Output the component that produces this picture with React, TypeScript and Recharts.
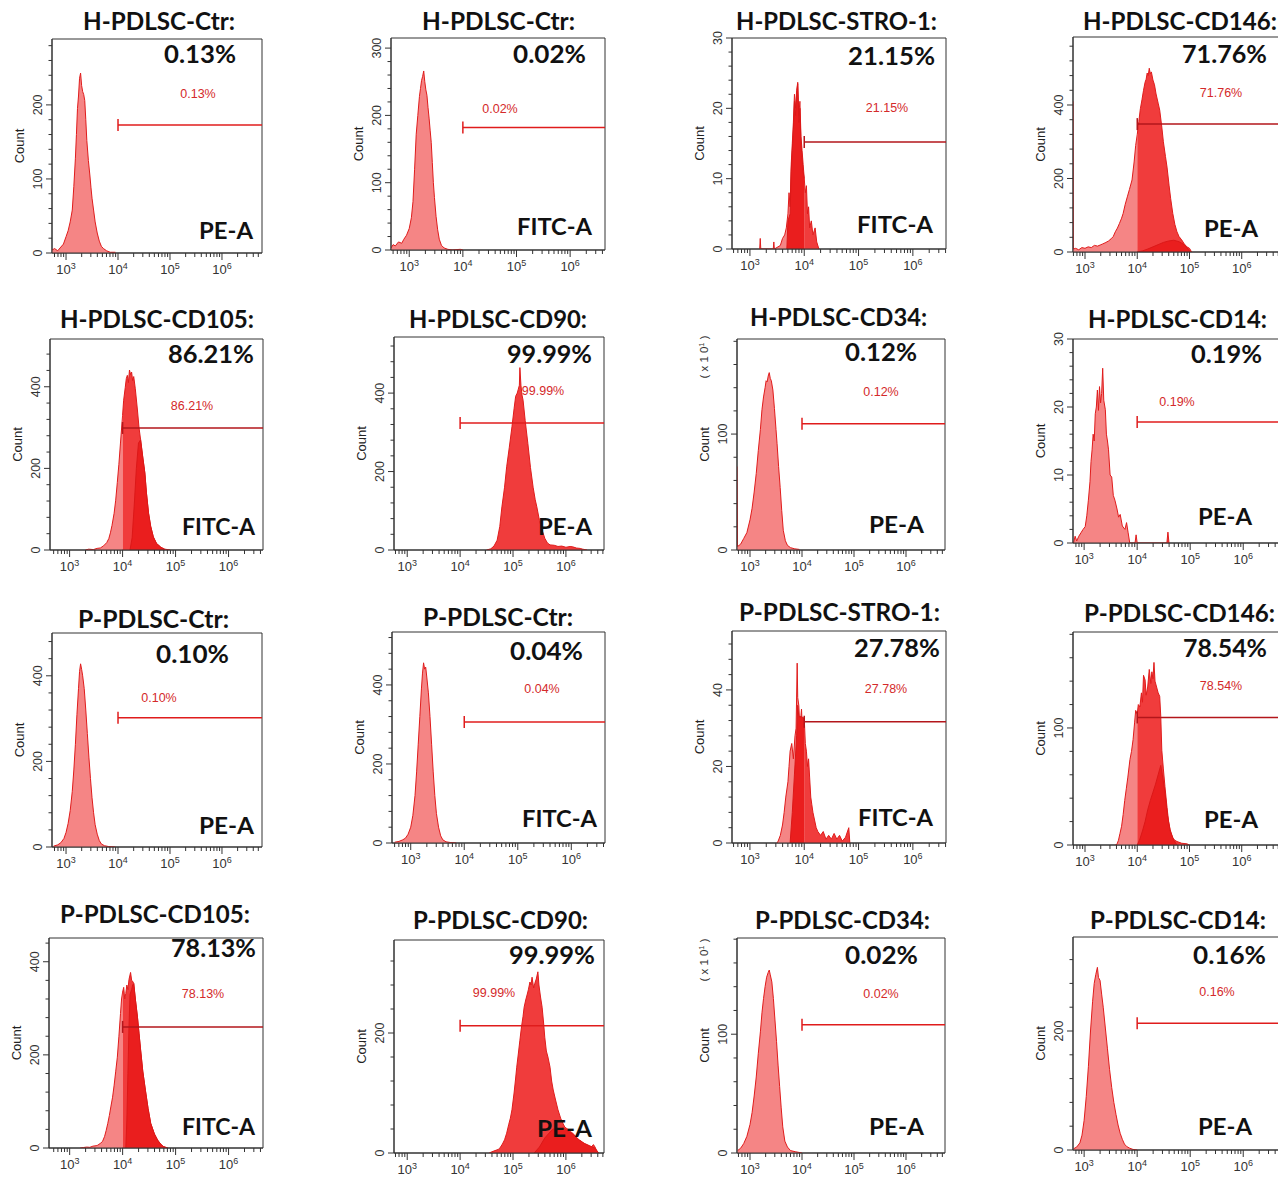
import React from "react";
import { ComposedChart, Area, XAxis, YAxis, ReferenceLine, ReferenceDot, ReferenceArea } from "recharts";

// [log10(fluorescence), count]
type Pair = [number, number];

const hCtrPe: Pair[] = [[2.73,4],[2.78,6],[2.84,3],[2.9,8],[2.95,12],[3.0,22],[3.04,30],[3.08,42],[3.12,58],[3.15,90],[3.18,128],[3.2,160],[3.22,195],[3.24,212],[3.26,236],[3.28,243],[3.3,226],[3.32,218],[3.34,214],[3.36,206],[3.38,180],[3.4,152],[3.43,125],[3.46,104],[3.48,88],[3.5,74],[3.53,58],[3.56,42],[3.6,27],[3.64,16],[3.68,9],[3.72,6],[3.78,3],[3.85,1],[3.95,1],[4.05,0]];
const hCtrFitc: Pair[] = [[2.66,3],[2.7,8],[2.74,6],[2.8,12],[2.86,10],[2.9,16],[2.95,22],[3.0,32],[3.04,48],[3.07,72],[3.1,120],[3.13,172],[3.16,200],[3.19,228],[3.21,240],[3.23,252],[3.25,258],[3.27,266],[3.29,250],[3.31,238],[3.33,230],[3.35,212],[3.37,196],[3.39,178],[3.41,160],[3.43,130],[3.45,100],[3.47,78],[3.5,50],[3.53,30],[3.56,16],[3.6,7],[3.65,3],[3.72,1],[3.8,0],[3.95,1],[4.0,0]];
const hStro: Pair[] = [[3.18,0],[3.19,1.5],[3.2,0],[3.43,0],[3.44,1],[3.45,0],[3.56,0.5],[3.6,1.5],[3.64,2],[3.67,3],[3.7,5],[3.72,8],[3.74,6],[3.76,12],[3.78,15],[3.8,18],[3.82,22],[3.84,20],[3.86,22.5],[3.88,23.7],[3.9,19],[3.92,21],[3.94,16],[3.96,14],[3.98,12],[4.0,10],[4.02,8],[4.04,9],[4.06,5],[4.08,6],[4.1,3],[4.13,4],[4.16,2],[4.2,3],[4.23,1],[4.27,0]];
const hStroInner: Pair[] = [[3.68,0],[3.7,4],[3.74,5],[3.76,11],[3.78,14],[3.8,17],[3.82,21],[3.84,19],[3.86,22],[3.88,23.5],[3.9,18],[3.92,20],[3.94,15],[3.96,13],[3.98,11],[4.0,10]];
const hCd146: Pair[] = [[2.77,410],[2.775,8],[2.82,10],[2.88,6],[2.94,12],[3.0,10],[3.06,14],[3.12,12],[3.18,18],[3.24,16],[3.29,19],[3.34,22],[3.4,26],[3.45,30],[3.5,36],[3.54,42],[3.58,55],[3.62,65],[3.66,78],[3.7,92],[3.73,105],[3.77,130],[3.81,150],[3.85,170],[3.9,196],[3.94,245],[3.97,290],[4.0,320],[4.03,355],[4.06,390],[4.09,414],[4.12,440],[4.15,462],[4.17,470],[4.19,487],[4.21,480],[4.23,500],[4.25,485],[4.27,490],[4.3,468],[4.33,455],[4.36,430],[4.4,405],[4.43,386],[4.47,340],[4.5,300],[4.54,260],[4.57,231],[4.61,180],[4.64,145],[4.68,105],[4.72,75],[4.76,55],[4.8,42],[4.85,33],[4.9,22],[4.95,14],[5.0,10],[5.04,0]];
const hCd146Inner: Pair[] = [[4.0,0],[4.1,3],[4.2,8],[4.3,14],[4.4,20],[4.5,26],[4.6,30],[4.7,32],[4.8,28],[4.9,20],[4.97,8],[5.02,0]];
const hCd105: Pair[] = [[3.3,0],[3.36,2],[3.45,1],[3.52,4],[3.58,5],[3.64,10],[3.7,18],[3.74,28],[3.77,42],[3.8,60],[3.84,90],[3.87,122],[3.9,165],[3.93,210],[3.96,262],[4.0,330],[4.02,367],[4.05,398],[4.07,420],[4.09,428],[4.11,410],[4.13,441],[4.15,430],[4.17,436],[4.19,415],[4.21,425],[4.24,395],[4.28,343],[4.31,300],[4.34,270],[4.38,228],[4.42,189],[4.45,140],[4.49,90],[4.53,58],[4.58,32],[4.64,16],[4.72,7],[4.8,2],[4.9,0]];
const hCd105Inner: Pair[] = [[4.14,0],[4.18,30],[4.22,110],[4.26,200],[4.3,262],[4.34,270],[4.38,228],[4.42,189],[4.45,140],[4.49,90],[4.53,58],[4.58,32],[4.64,16],[4.72,7],[4.8,0]];
const hCd90: Pair[] = [[4.5,0],[4.58,3],[4.64,10],[4.7,25],[4.75,60],[4.79,110],[4.84,160],[4.88,212],[4.93,262],[4.98,314],[5.02,360],[5.05,392],[5.08,400],[5.1,410],[5.12,420],[5.13,465],[5.15,420],[5.17,395],[5.19,382],[5.23,330],[5.28,272],[5.33,210],[5.38,160],[5.42,128],[5.45,110],[5.5,75],[5.55,51],[5.6,30],[5.65,18],[5.7,13],[5.78,12],[5.85,9],[5.92,10],[6.0,7],[6.08,9],[6.13,8],[6.2,5],[6.27,4],[6.32,2],[6.4,0]];
const hCd34: Pair[] = [[2.75,72],[2.76,3],[2.82,5],[2.88,10],[2.94,15],[3.0,26],[3.04,36],[3.08,50],[3.12,66],[3.16,86],[3.2,104],[3.23,121],[3.26,132],[3.29,140],[3.31,146],[3.33,145],[3.35,150],[3.37,153],[3.39,148],[3.41,146],[3.44,138],[3.47,122],[3.5,104],[3.52,92],[3.55,72],[3.58,54],[3.61,34],[3.64,17],[3.68,8],[3.72,4],[3.78,2],[3.86,1],[3.95,0.5],[4.05,0]];
const hCd14: Pair[] = [[2.8,0],[2.83,1],[2.86,0.3],[2.9,1],[2.94,1.5],[2.98,2],[3.02,2.4],[3.05,4],[3.08,6.3],[3.11,9],[3.13,12],[3.15,13.7],[3.17,16],[3.19,15],[3.21,19],[3.23,20],[3.25,22.5],[3.27,19.5],[3.29,23],[3.31,20.6],[3.33,22],[3.35,25.7],[3.37,21],[3.4,19.6],[3.42,16],[3.44,15],[3.46,13.7],[3.49,10],[3.52,9.7],[3.55,7],[3.58,6.3],[3.62,5],[3.65,3.8],[3.68,4.2],[3.72,2.5],[3.77,2],[3.8,3],[3.83,1.5],[3.86,0],[3.96,0],[3.98,1.2],[4.0,0],[4.56,0],[4.58,1.6],[4.6,0]];
const pCtrPe: Pair[] = [[2.76,2],[2.84,5],[2.9,10],[2.96,20],[3.0,34],[3.04,55],[3.08,85],[3.12,130],[3.15,180],[3.18,240],[3.21,310],[3.24,370],[3.26,410],[3.28,428],[3.3,415],[3.32,400],[3.35,370],[3.38,320],[3.41,265],[3.44,210],[3.47,160],[3.5,115],[3.53,80],[3.56,52],[3.6,30],[3.64,15],[3.68,7],[3.74,3],[3.82,1],[3.95,0]];
const pCtrFitc: Pair[] = [[2.7,2],[2.78,4],[2.85,8],[2.9,12],[2.95,22],[3.0,40],[3.04,70],[3.08,120],[3.11,180],[3.14,250],[3.17,320],[3.2,390],[3.22,430],[3.24,456],[3.26,440],[3.28,445],[3.3,420],[3.33,380],[3.36,320],[3.39,250],[3.42,180],[3.45,120],[3.48,75],[3.52,40],[3.56,18],[3.6,8],[3.66,3],[3.75,1],[3.85,0]];
const pStro: Pair[] = [[3.5,0],[3.52,0.5],[3.56,2],[3.6,4.7],[3.63,8],[3.66,12],[3.7,16],[3.72,20],[3.74,24],[3.77,26],[3.8,22],[3.83,28],[3.85,30],[3.87,47],[3.88,38],[3.9,36],[3.92,30],[3.95,35],[3.97,28],[4.0,32.6],[4.02,26],[4.04,24],[4.06,20],[4.08,22],[4.1,17],[4.12,12],[4.14,10],[4.16,8],[4.19,6],[4.22,4],[4.25,3],[4.3,2],[4.35,3],[4.4,1],[4.45,2],[4.5,1],[4.55,2.5],[4.6,1],[4.65,2],[4.7,0.5],[4.76,1.5],[4.82,4],[4.84,0]];
const pStroInner: Pair[] = [[3.74,0],[3.78,8],[3.82,18],[3.86,28],[3.88,36],[3.9,33],[3.95,33],[4.0,32.6]];
const pCd146: Pair[] = [[3.58,0],[3.61,0.5],[3.64,4],[3.67,10],[3.7,16],[3.73,26],[3.76,38],[3.79,48],[3.82,58],[3.86,73],[3.89,80],[3.92,90],[3.95,105],[3.97,115],[4.0,112],[4.02,120],[4.05,118],[4.08,130],[4.1,122],[4.12,145],[4.15,141],[4.17,128],[4.2,135],[4.23,150],[4.26,138],[4.28,148],[4.3,142],[4.32,156],[4.34,140],[4.37,135],[4.4,130],[4.43,127],[4.45,110],[4.47,81],[4.5,65],[4.53,50],[4.57,32],[4.6,20],[4.63,13],[4.68,6],[4.72,4],[4.76,3],[4.85,1.5],[4.95,1],[5.0,0]];
const pCd146Inner: Pair[] = [[4.0,0],[4.05,5],[4.1,12],[4.15,20],[4.2,30],[4.25,38],[4.3,45],[4.35,52],[4.4,60],[4.45,68],[4.48,60],[4.53,45],[4.58,25],[4.63,12],[4.7,4],[4.76,0]];
const pCd105: Pair[] = [[3.2,0],[3.26,1],[3.32,2],[3.38,1.5],[3.44,4],[3.5,5],[3.53,6],[3.58,10],[3.62,14],[3.66,25],[3.69,38],[3.72,53],[3.75,70],[3.78,90],[3.81,109],[3.84,135],[3.87,165],[3.9,195],[3.93,240],[3.96,289],[3.98,320],[4.0,335],[4.02,345],[4.04,320],[4.06,332],[4.08,350],[4.1,340],[4.12,362],[4.15,377],[4.17,360],[4.19,358],[4.21,353],[4.24,320],[4.28,281],[4.31,245],[4.34,210],[4.38,165],[4.43,124],[4.48,85],[4.53,53],[4.6,30],[4.66,17],[4.72,8],[4.77,3],[4.85,0]];
const pCd105Inner: Pair[] = [[4.06,0],[4.08,60],[4.1,160],[4.12,260],[4.14,330],[4.17,340],[4.19,350],[4.21,353],[4.24,320],[4.28,281],[4.31,245],[4.34,210],[4.38,165],[4.43,124],[4.48,85],[4.53,53],[4.6,30],[4.66,17],[4.72,8],[4.77,3],[4.85,0]];
const pCd90: Pair[] = [[4.55,0],[4.6,2],[4.66,4],[4.72,6],[4.75,8],[4.8,15],[4.84,22],[4.88,33],[4.92,48],[4.95,58],[4.98,72],[5.02,100],[5.05,125],[5.07,143],[5.1,165],[5.13,188],[5.16,210],[5.19,228],[5.21,243],[5.24,255],[5.27,265],[5.29,272],[5.32,285],[5.34,280],[5.36,293],[5.39,275],[5.42,285],[5.44,290],[5.47,302],[5.49,280],[5.52,260],[5.55,243],[5.58,215],[5.6,193],[5.63,170],[5.66,160],[5.7,143],[5.73,120],[5.76,105],[5.8,90],[5.85,72],[5.9,58],[5.94,50],[5.98,43],[6.03,40],[6.08,36],[6.13,33],[6.18,28],[6.23,22],[6.28,20],[6.32,17],[6.38,14],[6.43,12],[6.48,10],[6.52,14],[6.55,10],[6.6,0]];
const pCd90Inner: Pair[] = [[5.4,0],[5.5,10],[5.6,25],[5.7,35],[5.76,40],[5.85,38],[5.95,42],[6.05,36],[6.15,30],[6.25,22],[6.35,16],[6.45,12],[6.55,8],[6.62,0]];
const pCd34: Pair[] = [[2.76,2],[2.82,4],[2.88,8],[2.94,14],[3.0,24],[3.04,34],[3.08,48],[3.12,64],[3.16,84],[3.2,102],[3.23,118],[3.26,130],[3.29,140],[3.32,148],[3.35,152],[3.37,154],[3.39,150],[3.42,144],[3.45,130],[3.48,112],[3.51,94],[3.54,74],[3.57,56],[3.6,38],[3.63,22],[3.67,10],[3.72,5],[3.78,2],[3.88,1],[4.0,0]];
const pCd14: Pair[] = [[2.8,2],[2.86,5],[2.92,12],[2.96,25],[3.0,50],[3.04,90],[3.08,140],[3.12,200],[3.16,250],[3.19,280],[3.22,295],[3.25,307],[3.27,290],[3.3,285],[3.33,262],[3.36,240],[3.4,205],[3.44,170],[3.48,135],[3.52,105],[3.56,80],[3.6,60],[3.64,42],[3.68,28],[3.72,18],[3.76,10],[3.8,6],[3.86,3],[3.92,1],[4.0,0]];

const HISTS = [hCtrPe, hCtrFitc, hStro, hCd146, hCd105, hCd90, hCd34, hCd14, pCtrPe, pCtrFitc, pStro, pCd146, pCd105, pCd90, pCd34, pCd14];
const INNERS: (Pair[] | undefined)[] = [undefined, undefined, hStroInner, hCd146Inner, hCd105Inner, undefined, undefined, undefined, undefined, undefined, pStroInner, pCd146Inner, pCd105Inner, pCd90Inner, undefined, undefined];

const TITLES = ["H-PDLSC-Ctr:", "H-PDLSC-Ctr:", "H-PDLSC-STRO-1:", "H-PDLSC-CD146:", "H-PDLSC-CD105:", "H-PDLSC-CD90:", "H-PDLSC-CD34:", "H-PDLSC-CD14:", "P-PDLSC-Ctr:", "P-PDLSC-Ctr:", "P-PDLSC-STRO-1:", "P-PDLSC-CD146:", "P-PDLSC-CD105:", "P-PDLSC-CD90:", "P-PDLSC-CD34:", "P-PDLSC-CD14:"];
const PERCENTS = ["0.13%", "0.02%", "21.15%", "71.76%", "86.21%", "99.99%", "0.12%", "0.19%", "0.10%", "0.04%", "27.78%", "78.54%", "78.13%", "99.99%", "0.02%", "0.16%"];
const CHANNELS = ["PE-A", "FITC-A", "FITC-A", "PE-A", "FITC-A", "PE-A", "PE-A", "PE-A", "PE-A", "FITC-A", "FITC-A", "PE-A", "FITC-A", "PE-A", "PE-A", "PE-A"];
const GATE_COUNTS = [173, 182, 15.2, 348, 299, 324, 109, 17.8, 302, 306, 31.7, 109, 260, 212, 108, 213];
const GATE_LOG = 4;
const Y_MAX = [289, 315, 30, 585, 517, 543, 182, 30, 500, 534, 55.4, 182, 451, 355, 181, 358];
const Y_STEP = [100, 100, 10, 200, 200, 200, 100, 10, 200, 200, 20, 100, 200, 200, 100, 200];
const X_DECADES = [2, 3, 4, 5, 6, 7];

const RED = "#e01c1c";
const DARK_GATE = "#b3161b";
const BOLD = "Lato, 'Open Sans', sans-serif";
const SANS = "'Liberation Sans', Arial, sans-serif";

interface Layout {
  box: [number, number, number, number];
  xLog: [number, number];
  title: [number, number, number];
  pct: [number, number, number];
  chan: [number, number, number];
  small: [number, number];
  gate: string;
  x10?: [number, number];
}

const LAYOUT: Layout[] = [
  { box: [52, 39, 262, 253], xLog: [2.73, 6.77], title: [83, 30, 152], pct: [164, 63, 72], chan: [199, 239, 54], small: [198, 98], gate: RED },
  { box: [391, 38, 605, 250], xLog: [2.66, 6.65], title: [422, 30, 153], pct: [513, 63, 73], chan: [517, 235, 75], small: [500, 113], gate: RED },
  { box: [732, 38, 946, 249], xLog: [2.67, 6.61], title: [736, 30, 201], pct: [848, 65, 87], chan: [857, 233, 76], small: [887, 112], gate: DARK_GATE },
  { box: [1073, 37, 1283, 252], xLog: [2.77, 6.79], title: [1083, 30, 194], pct: [1182, 63, 85], chan: [1204, 237, 54], small: [1221, 97], gate: DARK_GATE },
  { box: [50, 339, 263, 550], xLog: [2.63, 6.65], title: [60, 328, 194], pct: [168, 363, 86], chan: [182, 535, 73], small: [192, 410], gate: DARK_GATE },
  { box: [394, 337, 604, 550], xLog: [2.75, 6.72], title: [409, 328, 178], pct: [507, 363, 85], chan: [538, 535, 54], small: [543, 395], gate: RED },
  { box: [737, 339, 945, 550], xLog: [2.75, 6.75], title: [750, 326, 177], pct: [845, 361, 72], chan: [869, 533, 55], small: [881, 396], gate: RED, x10: [708, 357] },
  { box: [1073, 339, 1283, 543], xLog: [2.79, 6.75], title: [1088, 328, 179], pct: [1191, 363, 71], chan: [1198, 525, 54], small: [1177, 406], gate: RED },
  { box: [52, 633, 262, 847], xLog: [2.73, 6.77], title: [78, 628, 151], pct: [156, 663, 73], chan: [199, 834, 55], small: [159, 702], gate: RED },
  { box: [392, 632, 605, 843], xLog: [2.65, 6.63], title: [423, 626, 150], pct: [510, 660, 73], chan: [522, 827, 75], small: [542, 693], gate: RED },
  { box: [732, 631, 946, 843], xLog: [2.67, 6.61], title: [739, 621, 201], pct: [854, 657, 86], chan: [858, 826, 75], small: [886, 693], gate: DARK_GATE },
  { box: [1073, 632, 1283, 845], xLog: [2.77, 6.79], title: [1084, 622, 191], pct: [1183, 657, 84], chan: [1204, 828, 54], small: [1221, 690], gate: DARK_GATE },
  { box: [49, 938, 263, 1148], xLog: [2.61, 6.65], title: [60, 923, 190], pct: [171, 957, 85], chan: [182, 1135, 73], small: [203, 998], gate: DARK_GATE },
  { box: [394, 940, 604, 1153], xLog: [2.75, 6.72], title: [413, 929, 175], pct: [509, 964, 86], chan: [537, 1137, 55], small: [494, 997], gate: RED },
  { box: [737, 938, 945, 1153], xLog: [2.75, 6.75], title: [755, 929, 175], pct: [845, 964, 73], chan: [869, 1135, 55], small: [881, 998], gate: RED, x10: [708, 960] },
  { box: [1073, 937, 1283, 1150], xLog: [2.79, 6.75], title: [1090, 929, 176], pct: [1193, 964, 73], chan: [1198, 1135, 54], small: [1217, 996], gate: RED },
];

type Row = { x: number; lo: number | null; hi: number | null; inner: number | null };

function buildRows(main: Pair[], inner: Pair[] | undefined): Row[] {
  const rows: Row[] = main.map(([l, c]) => ({
    x: Math.pow(10, l),
    lo: l <= GATE_LOG ? c : null,
    hi: l >= GATE_LOG ? c : null,
    inner: null,
  }));
  (inner || []).forEach(([l, c]) => rows.push({ x: Math.pow(10, l), lo: null, hi: null, inner: c }));
  rows.sort((a, b) => a.x - b.x);
  return rows;
}

function logTicks(min: number, max: number) {
  const out: number[] = [];
  X_DECADES.forEach((e) => {
    for (let k = 1; k <= 9; k++) {
      const v = k * Math.pow(10, e);
      if (v >= min && v <= max) out.push(v);
    }
  });
  return out;
}

function XTick(props: any) {
  const { x, y, payload } = props;
  const lg = Math.log10(payload.value);
  const e = Math.round(lg);
  const major = Math.abs(lg - e) < 1e-6;
  return (
    <g>
      <line x1={x} x2={x} y1={y} y2={y + (major ? 7 : 4)} stroke="#333" />
      {major && (
        <text x={x} y={y + 21} textAnchor="middle" fontSize={13} fill="#333" fontFamily={SANS}>
          10<tspan dy={-5} fontSize={9}>{e}</tspan>
        </text>
      )}
    </g>
  );
}

function YTick(props: any) {
  const { x, y, payload, step } = props;
  const v = payload.value;
  const major = Math.abs(v / step - Math.round(v / step)) < 1e-6;
  const tx = x - 10;
  return (
    <g>
      <line x1={x} x2={x - (major ? 6 : 3.5)} y1={y} y2={y} stroke="#333" />
      {major && (
        <text transform={`rotate(-90 ${tx} ${y})`} x={tx} y={y} textAnchor="middle" fontSize={12.5} fill="#333" fontFamily={SANS}>
          {v}
        </text>
      )}
    </g>
  );
}

function CountLabel({ cy }: { cy: number }) {
  return (
    <text transform={`rotate(-90 22 ${cy})`} x={22} y={cy} textAnchor="middle" fontSize={13} fill="#222" fontFamily={SANS}>
      Count
    </text>
  );
}

function Panel({ i }: { i: number }) {
  const L = LAYOUT[i];
  const [left, top, right, bottom] = L.box;
  const w = right - left;
  const h = bottom - top;
  const xMin = Math.pow(10, L.xLog[0]);
  const xMax = Math.pow(10, L.xLog[1]);
  const yMax = Y_MAX[i];
  const minor = Y_STEP[i] / 5;
  const yTicks: number[] = [];
  for (let k = 0; k * minor <= yMax + 1e-9; k++) yTicks.push(+(k * minor).toFixed(4));
  const rows = buildRows(HISTS[i], INNERS[i]);
  const gx = Math.pow(10, GATE_LOG);
  const gy = GATE_COUNTS[i];

  return (
    <div style={{ position: "absolute", left: left - 50, top: top - 8 }}>
      <ComposedChart width={w + 56} height={h + 40} data={rows} margin={{ top: 8, right: 6, bottom: 0, left: 0 }}>
        <XAxis
          dataKey="x"
          type="number"
          scale="log"
          domain={[xMin, xMax]}
          allowDataOverflow
          ticks={logTicks(xMin, xMax)}
          interval={0}
          tickSize={0}
          tickMargin={0}
          tickLine={false}
          tick={<XTick />}
          height={32}
          axisLine={{ stroke: "#333" }}
        />
        <YAxis
          type="number"
          domain={[0, yMax]}
          allowDataOverflow
          ticks={yTicks}
          interval={0}
          tickSize={0}
          tickMargin={0}
          tickLine={false}
          tick={<YTick step={Y_STEP[i]} />}
          width={50}
          axisLine={{ stroke: "#333" }}
          label={<CountLabel cy={8 + h / 2} />}
        />
        <ReferenceArea x1={xMin} x2={xMax} y1={0} y2={yMax} fill="none" stroke="#333" strokeWidth={1} />
        <Area dataKey="lo" type="linear" connectNulls isAnimationActive={false} dot={false} activeDot={false} fill="#f58585" fillOpacity={1} stroke={RED} strokeWidth={1} />
        <Area dataKey="hi" type="linear" connectNulls isAnimationActive={false} dot={false} activeDot={false} fill="#f03c3c" fillOpacity={1} stroke={RED} strokeWidth={1} />
        <Area dataKey="inner" type="linear" connectNulls isAnimationActive={false} dot={false} activeDot={false} fill="#ea1e1e" fillOpacity={1} stroke="#dc1818" strokeWidth={1} />
        <ReferenceLine segment={[{ x: gx, y: gy }, { x: xMax, y: gy }]} stroke={L.gate} strokeWidth={1.5} />
        <ReferenceDot
          x={gx}
          y={gy}
          r={0}
          shape={(p: any) => <line x1={p.cx} x2={p.cx} y1={p.cy - 6} y2={p.cy + 6} stroke={L.gate} strokeWidth={1.5} />}
        />
      </ComposedChart>
    </div>
  );
}

function Labels() {
  return (
    <svg width={1278} height={1177} style={{ position: "absolute", left: 0, top: 0, pointerEvents: "none" }}>
      {LAYOUT.map((L, i) => (
        <g key={i}>
          <text x={L.title[0]} y={L.title[1]} textLength={L.title[2]} lengthAdjust="spacingAndGlyphs" fontFamily={BOLD} fontWeight={700} fontSize={24} fill="#111">
            {TITLES[i]}
          </text>
          <text x={L.pct[0]} y={L.pct[1]} textLength={L.pct[2]} lengthAdjust="spacingAndGlyphs" fontFamily={BOLD} fontWeight={700} fontSize={25} fill="#111">
            {PERCENTS[i]}
          </text>
          <text x={L.chan[0]} y={L.chan[1]} textLength={L.chan[2]} lengthAdjust="spacingAndGlyphs" fontFamily={BOLD} fontWeight={700} fontSize={23.5} fill="#111">
            {CHANNELS[i]}
          </text>
          <text x={L.small[0]} y={L.small[1]} textAnchor="middle" fontFamily={SANS} fontSize={12.5} fill="#d42a2a">
            {PERCENTS[i]}
          </text>
          {L.x10 && (
            <text transform={`rotate(-90 ${L.x10[0]} ${L.x10[1]})`} x={L.x10[0]} y={L.x10[1]} textAnchor="middle" fontFamily={SANS} fontSize={11.5} fill="#333">
              ( x 1 0<tspan dy={-4} fontSize={7.5}>1</tspan><tspan dy={4}> )</tspan>
            </text>
          )}
        </g>
      ))}
    </svg>
  );
}

export default function App() {
  return (
    <div style={{ position: "absolute", left: 0, top: 0, width: 1278, height: 1177, overflow: "hidden", background: "#fff" }}>
      {LAYOUT.map((_, i) => (
        <Panel key={i} i={i} />
      ))}
      <Labels />
    </div>
  );
}
